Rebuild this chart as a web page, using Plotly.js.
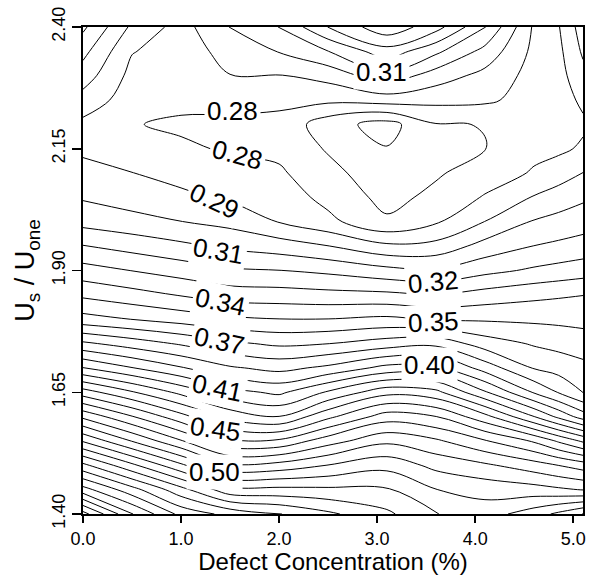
<!DOCTYPE html>
<html>
<head>
<meta charset="utf-8">
<script src="https://cdn.plot.ly/plotly-3.0.1.min.js"></script>
<style>
  html, body { margin: 0; padding: 0; background: #fff; }
  #chart { width: 616px; height: 575px; }
</style>
</head>
<body>
<div id="chart"></div>
<script>
// Grid positions (defect concentration %, and Us/Uone), rows listed top (2.40) to bottom (1.40)
const xGrid = [0, 0.5, 1.0, 1.5, 2.0, 2.5, 3.1, 3.6, 4.1, 4.6, 4.85, 5.1];
const yGrid = [2.40, 2.35, 2.30, 2.25, 2.20, 2.15, 2.10, 2.05, 2.00, 1.95, 1.90,
               1.85, 1.80, 1.75, 1.70, 1.65, 1.60, 1.55, 1.50, 1.45, 1.40];

// Values, one column per x grid position (top to bottom)
const col_0_00 = [0.322, 0.313, 0.305, 0.296, 0.2875, 0.288, 0.2935, 0.299, 0.3067, 0.3205, 0.334, 0.348, 0.3637, 0.392, 0.4203, 0.4547, 0.4877, 0.519, 0.5526, 0.584, 0.624];
const col_0_50 = [0.298, 0.2905, 0.287, 0.285, 0.2805, 0.2835, 0.2902, 0.2955, 0.3035, 0.3163, 0.3298, 0.3437, 0.3598, 0.3853, 0.4104, 0.441, 0.4706, 0.4995, 0.5323, 0.5638, 0.5905];
const col_1_00 = [0.286, 0.2855, 0.2848, 0.2825, 0.2785, 0.2815, 0.2869, 0.292, 0.3002, 0.3122, 0.3256, 0.3393, 0.3559, 0.3787, 0.4009, 0.4273, 0.4535, 0.4809, 0.5121, 0.5435, 0.567];
const col_1_50 = [0.3003, 0.2933, 0.2898, 0.283, 0.278, 0.279, 0.2836, 0.2885, 0.297, 0.308, 0.3214, 0.335, 0.352, 0.3719, 0.3913, 0.4136, 0.4364, 0.4618, 0.4918, 0.5233, 0.5567];
const col_2_00 = [0.3102, 0.3005, 0.2895, 0.282, 0.2775, 0.2775, 0.2815, 0.2857, 0.2896, 0.305, 0.3202, 0.3343, 0.3502, 0.3681, 0.3869, 0.4078, 0.4302, 0.4619, 0.4938, 0.5228, 0.5505];
const col_2_50 = [0.3302, 0.3098, 0.2933, 0.2823, 0.2641, 0.269, 0.2731, 0.2769, 0.2827, 0.3003, 0.3178, 0.3331, 0.3502, 0.3698, 0.3923, 0.4213, 0.4475, 0.4756, 0.5003, 0.522, 0.542];
const col_3_10 = [0.347, 0.326, 0.3067, 0.2845, 0.256, 0.2605, 0.2636, 0.2669, 0.2715, 0.2922, 0.3131, 0.3323, 0.3522, 0.3748, 0.4033, 0.4367, 0.465, 0.4878, 0.5067, 0.5211, 0.532];
const col_3_60 = [0.334, 0.3122, 0.295, 0.2829, 0.2695, 0.267, 0.2688, 0.2725, 0.2788, 0.2933, 0.3111, 0.3302, 0.3489, 0.3772, 0.4033, 0.4329, 0.4602, 0.4817, 0.4971, 0.5102, 0.5203];
const col_4_10 = [0.3105, 0.2967, 0.2869, 0.2818, 0.2702, 0.2698, 0.2747, 0.2809, 0.2902, 0.3038, 0.3171, 0.3341, 0.3487, 0.365, 0.3855, 0.4112, 0.4433, 0.4709, 0.4917, 0.5063, 0.5153];
const col_4_60 = [0.2785, 0.2775, 0.2765, 0.276, 0.2755, 0.2775, 0.281, 0.2908, 0.3009, 0.3102, 0.3216, 0.3374, 0.3481, 0.3589, 0.3692, 0.389, 0.4202, 0.4587, 0.4845, 0.5041, 0.5253];
const col_4_85 = [0.2793, 0.2775, 0.2762, 0.2757, 0.2762, 0.278, 0.2852, 0.2947, 0.3033, 0.3121, 0.3235, 0.3387, 0.3476, 0.3569, 0.3659, 0.3794, 0.4076, 0.4485, 0.4799, 0.5018, 0.5322];
const col_5_10 = [0.295, 0.2915, 0.287, 0.2818, 0.2785, 0.2814, 0.2902, 0.2983, 0.3057, 0.314, 0.3254, 0.3398, 0.347, 0.3548, 0.3628, 0.3697, 0.3953, 0.4382, 0.4752, 0.4995, 0.5403];

// Axis ticks
const xTickVals = [0, 1, 2, 3, 4, 5];
const xTickText = ['0.0', '1.0', '2.0', '3.0', '4.0', '5.0'];
const yTickVals = [1.40, 1.65, 1.90, 2.15, 2.40];
const yTickText = ['1.40', '1.65', '1.90', '2.15', '2.40'];

// Contour labels as printed on the figure
const labelText  = ['0.31', '0.28', '0.28', '0.29', '0.31', '0.34', '0.37', '0.41', '0.45', '0.50', '0.32', '0.35', '0.40'];
const labelX     = [3.04, 1.52, 1.58, 1.34, 1.38, 1.40, 1.39, 1.37, 1.35, 1.34, 3.57, 3.57, 3.53];
const labelY     = [2.307, 2.228, 2.137, 2.043, 1.940, 1.835, 1.755, 1.659, 1.575, 1.486, 1.876, 1.794, 1.706];
const labelAngle = [0, 0, 15, 25, 10, 12, 12, 12, 8, 0, -5, -3, 0];

// Build z table (rows = y ascending)
const columns = [col_0_00, col_0_50, col_1_00, col_1_50, col_2_00, col_2_50, col_3_10,
                 col_3_60, col_4_10, col_4_60, col_4_85, col_5_10];
const yAsc = yGrid.slice().reverse();
const z = yAsc.map((yv, k) => {
  const i = yGrid.length - 1 - k;
  return columns.map(c => c[i]);
});

const FONT = 'Liberation Sans, Arial, Helvetica, sans-serif';

const trace = {
  type: 'contour',
  x: xGrid,
  y: yAsc,
  z: z,
  showscale: false,
  hoverinfo: 'skip',
  contours: { start: 0.26, end: 0.63, size: 0.01, coloring: 'none', showlabels: false },
  line: { color: '#000', width: 1, smoothing: 1 }
};

const annotations = labelText.map((t, i) => ({
  x: labelX[i], y: labelY[i], xref: 'x', yref: 'y',
  text: t, showarrow: false, textangle: labelAngle[i],
  xanchor: 'center', yanchor: 'middle',
  bgcolor: '#fff', borderpad: 2,
  font: { family: FONT, size: 26, color: '#000' }
}));

const layout = {
  width: 616, height: 575,
  margin: { l: 83, r: 33, t: 27, b: 61 },
  paper_bgcolor: '#fff', plot_bgcolor: '#fff',
  font: { family: FONT, color: '#000' },
  showlegend: false,
  xaxis: {
    range: [0, 5.1], tickvals: xTickVals, ticktext: xTickText,
    ticks: 'outside', ticklen: 7, tickwidth: 1.5, tickcolor: '#000',
    showline: true, linewidth: 2, linecolor: '#000', mirror: true,
    showgrid: false, zeroline: false,
    tickfont: { family: FONT, size: 18, color: '#000' },
    title: { text: 'Defect Concentration (%)', font: { family: FONT, size: 24, color: '#000' }, standoff: 1 }
  },
  yaxis: {
    range: [1.4, 2.4], tickvals: yTickVals, ticktext: yTickText, tickangle: -90,
    ticks: 'outside', ticklen: 9, tickwidth: 1.5, tickcolor: '#000',
    showline: true, linewidth: 2, linecolor: '#000', mirror: true,
    showgrid: false, zeroline: false,
    tickfont: { family: FONT, size: 18, color: '#000' },
    title: { text: 'U<sub>s</sub> / U<sub>one</sub>', font: { family: FONT, size: 27, color: '#000' }, standoff: 6 }
  },
  annotations: annotations
};

Plotly.newPlot('chart', [trace], layout, { displayModeBar: false, staticPlot: true });
</script>
</body>
</html>
